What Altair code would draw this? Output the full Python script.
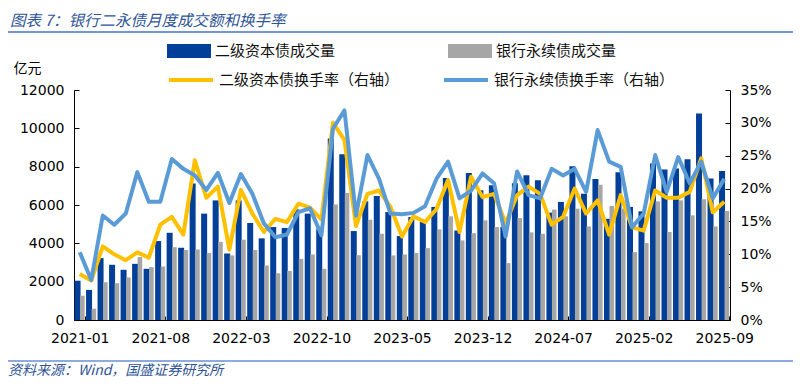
import altair as alt
import pandas as pd

# ---------------- data ----------------
months = [f"{y}-{m:02d}" for y in range(2021, 2026) for m in range(1, 13)][:57]
tick_labels = months[::7]

s_bar1 = "二级资本债成交量"
s_bar2 = "银行永续债成交量"
s_line1 = "二级资本债换手率（右轴）"
s_line2 = "银行永续债换手率（右轴）"

tier2_volume = [2050, 1570, 3230, 2880, 2620, 2930, 2670, 4120, 4550, 3770,
                7120, 5550, 6240, 3470, 6240, 5060, 4260, 4850, 4800, 5770,
                5550, 4760, 9470, 8650, 4640, 6190, 6470, 5630, 4380, 5370,
                5110, 5900, 7410, 4670, 7670, 6770, 7030, 4850, 7130, 7550,
                7290, 5600, 6160, 8020, 6590, 7360, 5280, 7710, 5900, 5670,
                8160, 7850, 7900, 8390, 10780, 7380, 7780]
perp_volume = [1260, 590, 1970, 1920, 2220, 3280, 2760, 2790, 3800, 3650,
               3680, 3490, 4080, 3370, 4190, 3650, 2840, 2440, 2560, 3190,
               3420, 2670, 6030, 6630, 3380, 5230, 4500, 3370, 3420, 3490,
               3750, 4730, 5410, 4150, 4530, 5200, 4850, 2970, 5320, 4570,
               4500, 5760, 5410, 5810, 4880, 7060, 5950, 5810, 3540, 4010,
               6190, 4590, 6240, 5460, 6300, 4880, 5690]
tier2_turnover = [7.0, 6.0, 11.2, 10.0, 9.1, 10.3, 9.5, 14.5, 15.7, 13.0,
                  24.3, 18.6, 20.3, 10.7, 19.8, 16.2, 13.4, 15.4, 14.9, 17.7,
                  17.1, 15.3, 30.0, 27.4, 14.3, 19.2, 19.7, 17.2, 12.7, 15.8,
                  14.9, 16.9, 21.3, 13.4, 21.8, 18.7, 19.2, 14.7, 19.0, 20.3,
                  19.2, 14.5, 15.7, 20.0, 16.2, 18.2, 13.0, 19.0, 14.1, 13.6,
                  19.7, 18.6, 18.6, 19.5, 24.6, 16.4, 18.0]
perp_turnover = [10.3, 6.1, 15.9, 14.5, 16.2, 22.5, 18.0, 18.0, 24.5, 23.0,
                 22.0, 19.8, 22.4, 17.8, 22.2, 19.2, 14.7, 12.6, 13.0, 16.4,
                 17.0, 12.9, 29.1, 31.9, 15.9, 25.1, 21.5, 16.2, 16.1, 16.3,
                 17.3, 21.5, 24.1, 18.5, 19.7, 22.3, 20.8, 12.7, 22.6, 19.0,
                 18.5, 23.0, 22.0, 23.0, 19.5, 28.9, 24.1, 23.3, 14.1, 16.2,
                 25.1, 19.5, 24.8, 20.8, 24.1, 18.5, 21.5]

left_ticks = [0, 2000, 4000, 6000, 8000, 10000, 12000]
right_ticks = [0, 0.05, 0.10, 0.15, 0.20, 0.25, 0.30, 0.35]

title_text = "图表 7：银行二永债月度成交额和换手率"
source_text = "资料来源：Wind，国盛证券研究所"

# ---------------- tables ----------------
df_b1 = pd.DataFrame({"month": months, "value": tier2_volume, "series": s_bar1})
df_b2 = pd.DataFrame({"month": months, "value": perp_volume, "series": s_bar2})
df_l1 = pd.DataFrame({"month": months, "value": [v / 100 for v in tier2_turnover], "series": s_line1})
df_l2 = pd.DataFrame({"month": months, "value": [v / 100 for v in perp_turnover], "series": s_line2})

# ---------------- styles ----------------
C_BLUE = "#023F98"
C_GRAY = "#A6A6A6"
C_YEL = "#FFC000"
C_LBLUE = "#5B9BD5"
CJK = "Noto Sans CJK SC"
NUM = "DejaVu Sans"
W, H = 656, 230

xscale = alt.Scale(domain=months, paddingInner=0.12, paddingOuter=0.06)
xaxis = alt.Axis(values=tick_labels, labelAngle=0, labelFont=NUM, labelFontSize=14,
                 labelColor="black", domainColor="black", tickColor="black",
                 tickSize={"expr": "-4"}, tickBand="extent", labelPadding=15,
                 title=None, grid=False, labelOverlap=False)
yl_axis = alt.Axis(values=left_ticks, format="d", orient="left", labelFont=NUM, labelFontSize=14,
                   labelColor="black", domainColor="black", tickColor="black",
                   tickSize={"expr": "-5"}, labelPadding=15, grid=False,
                   title="亿元", titleAngle=0, titleX=-47, titleY=-22, titleFont=CJK,
                   titleFontSize=14, titleFontWeight="normal", titleAlign="center",
                   titleBaseline="middle", titleColor="black")
yr_axis = alt.Axis(values=right_ticks, format=".0%", orient="right", labelFont=NUM, labelFontSize=14,
                   labelColor="black", domainColor="black", tickColor="black",
                   tickSize={"expr": "-5"}, labelPadding=15, grid=False, title=None)

fill_scale = alt.Scale(domain=[s_bar1, s_bar2], range=[C_BLUE, C_GRAY])
stroke_scale = alt.Scale(domain=[s_line1, s_line2], range=[C_YEL, C_LBLUE])

fill_legend = alt.Legend(orient="none", legendX=93, legendY=-61, direction="horizontal",
                         title=None, labelFont=CJK, labelFontSize=15, labelColor="#111111",
                         labelLimit=400,
                         symbolType="M-1,-0.32H1V0.32H-1Z", symbolSize=1936,
                         symbolStrokeWidth=0, labelOffset=4, columnPadding=112)
stroke_legend = alt.Legend(orient="none", legendX=93, legendY=-34, direction="horizontal",
                           title=None, labelFont=CJK, labelFontSize=15, labelColor="#111111",
                           labelLimit=400,
                           symbolType="stroke", symbolSize=1936, symbolStrokeWidth=4,
                           labelOffset=4, columnPadding=36)

yl_scale = alt.Scale(domain=[0, 12000], nice=False)
yr_scale = alt.Scale(domain=[0, 0.35], nice=False)

bar1 = alt.Chart(df_b1).mark_bar(width=6, xOffset=-2.2).encode(
    x=alt.X("month:N", scale=xscale, axis=xaxis, sort=months),
    y=alt.Y("value:Q", scale=yl_scale, axis=yl_axis),
    fill=alt.Fill("series:N", scale=fill_scale, legend=fill_legend),
)
bar2 = alt.Chart(df_b2).mark_bar(width=4.6, xOffset=2.6).encode(
    x=alt.X("month:N", scale=xscale, axis=xaxis, sort=months),
    y=alt.Y("value:Q", scale=yl_scale, axis=yl_axis),
    fill=alt.Fill("series:N", scale=fill_scale, legend=fill_legend),
)
bars = alt.layer(bar1, bar2)

line1 = alt.Chart(df_l1).mark_line(strokeWidth=4, strokeJoin="round").encode(
    x=alt.X("month:N", scale=xscale, axis=xaxis, sort=months),
    y=alt.Y("value:Q", scale=yr_scale, axis=yr_axis),
    stroke=alt.Stroke("series:N", scale=stroke_scale, legend=stroke_legend),
)
line2 = alt.Chart(df_l2).mark_line(strokeWidth=4, strokeJoin="round").encode(
    x=alt.X("month:N", scale=xscale, axis=xaxis, sort=months),
    y=alt.Y("value:Q", scale=yr_scale, axis=yr_axis),
    stroke=alt.Stroke("series:N", scale=stroke_scale, legend=stroke_legend),
)
lines = alt.layer(line1, line2)

one = alt.Data(values=[{}])
title_mark = alt.Chart(one).mark_text(
    text=title_text, align="left", baseline="middle", fontSize=15.5, fontStyle="italic",
    font=CJK, color="#2F5597").encode(x=alt.value(-64), y=alt.value(-69.5))
title_rule = alt.Chart(one).mark_rule(color="#4472C4", strokeWidth=1.5).encode(
    x=alt.value(-74), x2=alt.value(727), y=alt.value(-58))
foot_rule = alt.Chart(one).mark_rule(color="#8FAADC", strokeWidth=2).encode(
    x=alt.value(-74), x2=alt.value(727), y=alt.value(271))
foot_mark = alt.Chart(one).mark_text(
    text=source_text, align="left", baseline="middle", fontSize=14, fontStyle="italic",
    font=CJK, color="#2F5597").encode(x=alt.value(-66), y=alt.value(281))

chart = alt.layer(bars, lines, title_mark, title_rule, foot_rule, foot_mark).resolve_scale(
    y="independent"
).properties(
    width=W, height=H,
    padding={"left": 66, "top": 82, "right": 63, "bottom": 59},
    autosize=alt.AutoSizeParams(type="none"),
    background="white",
).configure_view(stroke=None)

chart.save("out.html", embed_options={"renderer": "svg", "actions": False})
